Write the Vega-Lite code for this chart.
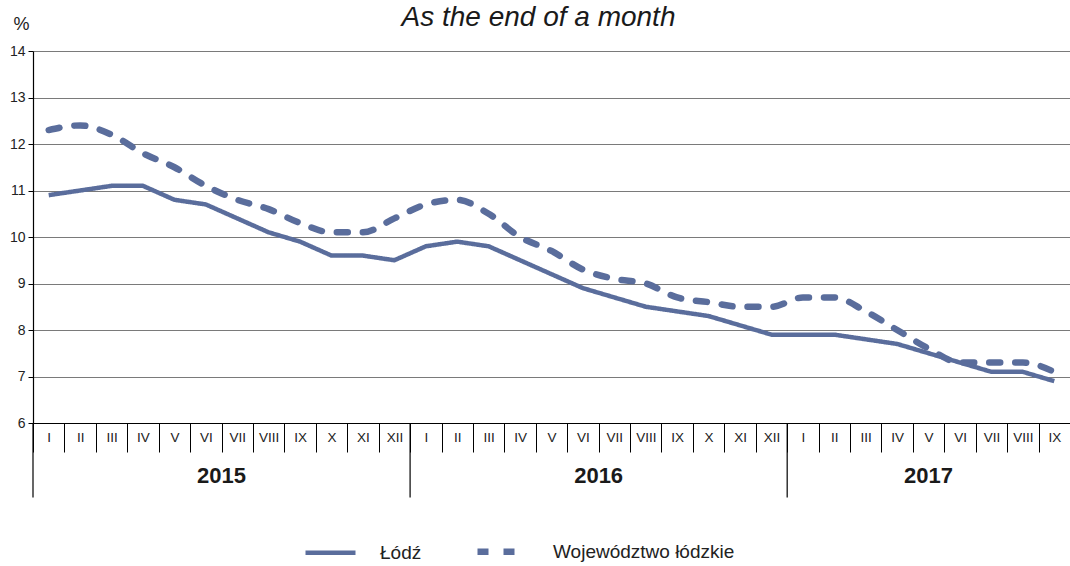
{
  "$schema": "https://vega.github.io/schema/vega-lite/v6.json",
  "autosize": {"type": "none"},
  "padding": {"left": 33, "top": 51, "right": 0, "bottom": 143},
  "width": 1037,
  "height": 372,
  "title": {"text": "As the end of a month", "font": "Liberation Sans", "fontStyle": "italic", "fontWeight": "normal", "fontSize": 28, "color": "#1a1a1a", "anchor": "middle", "baseline": "alphabetic", "offset": -39, "dx": -13},
  "config": {
    "view": {"stroke": null},
    "font": "Liberation Sans",
    "text": {"font": "Liberation Sans"}
  },
  "datasets": {
    "series": [
      {"k": "2015-I", "s": "Łódź", "v": 10.9},
      {"k": "2015-II", "s": "Łódź", "v": 11.0},
      {"k": "2015-III", "s": "Łódź", "v": 11.1},
      {"k": "2015-IV", "s": "Łódź", "v": 11.1},
      {"k": "2015-V", "s": "Łódź", "v": 10.8},
      {"k": "2015-VI", "s": "Łódź", "v": 10.7},
      {"k": "2015-VII", "s": "Łódź", "v": 10.4},
      {"k": "2015-VIII", "s": "Łódź", "v": 10.1},
      {"k": "2015-IX", "s": "Łódź", "v": 9.9},
      {"k": "2015-X", "s": "Łódź", "v": 9.6},
      {"k": "2015-XI", "s": "Łódź", "v": 9.6},
      {"k": "2015-XII", "s": "Łódź", "v": 9.5},
      {"k": "2016-I", "s": "Łódź", "v": 9.8},
      {"k": "2016-II", "s": "Łódź", "v": 9.9},
      {"k": "2016-III", "s": "Łódź", "v": 9.8},
      {"k": "2016-IV", "s": "Łódź", "v": 9.5},
      {"k": "2016-V", "s": "Łódź", "v": 9.2},
      {"k": "2016-VI", "s": "Łódź", "v": 8.9},
      {"k": "2016-VII", "s": "Łódź", "v": 8.7},
      {"k": "2016-VIII", "s": "Łódź", "v": 8.5},
      {"k": "2016-IX", "s": "Łódź", "v": 8.4},
      {"k": "2016-X", "s": "Łódź", "v": 8.3},
      {"k": "2016-XI", "s": "Łódź", "v": 8.1},
      {"k": "2016-XII", "s": "Łódź", "v": 7.9},
      {"k": "2017-I", "s": "Łódź", "v": 7.9},
      {"k": "2017-II", "s": "Łódź", "v": 7.9},
      {"k": "2017-III", "s": "Łódź", "v": 7.8},
      {"k": "2017-IV", "s": "Łódź", "v": 7.7},
      {"k": "2017-V", "s": "Łódź", "v": 7.5},
      {"k": "2017-VI", "s": "Łódź", "v": 7.3},
      {"k": "2017-VII", "s": "Łódź", "v": 7.1},
      {"k": "2017-VIII", "s": "Łódź", "v": 7.1},
      {"k": "2017-IX", "s": "Łódź", "v": 6.9},
      {"k": "2015-I", "s": "Województwo łódzkie", "v": 12.3},
      {"k": "2015-II", "s": "Województwo łódzkie", "v": 12.4},
      {"k": "2015-III", "s": "Województwo łódzkie", "v": 12.2},
      {"k": "2015-IV", "s": "Województwo łódzkie", "v": 11.8},
      {"k": "2015-V", "s": "Województwo łódzkie", "v": 11.5},
      {"k": "2015-VI", "s": "Województwo łódzkie", "v": 11.1},
      {"k": "2015-VII", "s": "Województwo łódzkie", "v": 10.8},
      {"k": "2015-VIII", "s": "Województwo łódzkie", "v": 10.6},
      {"k": "2015-IX", "s": "Województwo łódzkie", "v": 10.3},
      {"k": "2015-X", "s": "Województwo łódzkie", "v": 10.1},
      {"k": "2015-XI", "s": "Województwo łódzkie", "v": 10.1},
      {"k": "2015-XII", "s": "Województwo łódzkie", "v": 10.4},
      {"k": "2016-I", "s": "Województwo łódzkie", "v": 10.7},
      {"k": "2016-II", "s": "Województwo łódzkie", "v": 10.8},
      {"k": "2016-III", "s": "Województwo łódzkie", "v": 10.5},
      {"k": "2016-IV", "s": "Województwo łódzkie", "v": 10.0},
      {"k": "2016-V", "s": "Województwo łódzkie", "v": 9.7},
      {"k": "2016-VI", "s": "Województwo łódzkie", "v": 9.3},
      {"k": "2016-VII", "s": "Województwo łódzkie", "v": 9.1},
      {"k": "2016-VIII", "s": "Województwo łódzkie", "v": 9.0},
      {"k": "2016-IX", "s": "Województwo łódzkie", "v": 8.7},
      {"k": "2016-X", "s": "Województwo łódzkie", "v": 8.6},
      {"k": "2016-XI", "s": "Województwo łódzkie", "v": 8.5},
      {"k": "2016-XII", "s": "Województwo łódzkie", "v": 8.5},
      {"k": "2017-I", "s": "Województwo łódzkie", "v": 8.7},
      {"k": "2017-II", "s": "Województwo łódzkie", "v": 8.7},
      {"k": "2017-III", "s": "Województwo łódzkie", "v": 8.4},
      {"k": "2017-IV", "s": "Województwo łódzkie", "v": 8.0},
      {"k": "2017-V", "s": "Województwo łódzkie", "v": 7.6},
      {"k": "2017-VI", "s": "Województwo łódzkie", "v": 7.3},
      {"k": "2017-VII", "s": "Województwo łódzkie", "v": 7.3},
      {"k": "2017-VIII", "s": "Województwo łódzkie", "v": 7.3},
      {"k": "2017-IX", "s": "Województwo łódzkie", "v": 7.1}
    ],
    "years2": [
      {"year": "2015", "k": "2015-VII"},
      {"year": "2016", "k": "2016-VII"}
    ],
    "years1": [
      {"year": "2017", "k": "2017-V"}
    ],
    "seps": [
      {"k": "2015-I"},
      {"k": "2016-I"},
      {"k": "2017-I"}
    ]
  },
  "resolve": {"scale": {"x": "shared", "y": "shared"}},
  "layer": [
    {
      "data": {"name": "series"},
      "transform": [{"filter": "datum.s === 'Łódź'"}],
      "mark": {"type": "line", "color": "#5a6d9c", "strokeCap": "butt", "strokeJoin": "round"},
      "encoding": {
        "x": {
          "field": "k", "type": "nominal",
          "scale": {"type": "band", "paddingInner": 0, "paddingOuter": 0, "domain": ["2015-I","2015-II","2015-III","2015-IV","2015-V","2015-VI","2015-VII","2015-VIII","2015-IX","2015-X","2015-XI","2015-XII","2016-I","2016-II","2016-III","2016-IV","2016-V","2016-VI","2016-VII","2016-VIII","2016-IX","2016-X","2016-XI","2016-XII","2017-I","2017-II","2017-III","2017-IV","2017-V","2017-VI","2017-VII","2017-VIII","2017-IX"]},
          "axis": {
            "title": null,
            "labelExpr": "split(datum.value, '-')[1]",
            "labelAngle": 0,
            "labelFont": "Liberation Sans",
            "labelFontSize": 13.5,
            "labelColor": "#222222",
            "labelPadding": -22,
            "labelBaseline": "top",
            "tickBand": "extent",
            "tickSize": 29,
            "tickColor": "#000000",
            "tickWidth": 1,
            "domainColor": "#000000",
            "domainWidth": 1.2,
            "grid": false,
            "labelOverlap": false
          }
        },
        "y": {
          "field": "v", "type": "quantitative",
          "scale": {"domain": [6, 14], "zero": false, "nice": false},
          "axis": {
            "title": "%",
            "titleAngle": 0,
            "titleAlign": "center",
            "titleBaseline": "alphabetic",
            "titleX": -12,
            "titleY": -22,
            "titleFont": "Liberation Sans",
            "titleFontSize": 18,
            "titleFontWeight": "normal",
            "titleColor": "#222222",
            "values": [6, 7, 8, 9, 10, 11, 12, 13, 14],
            "labelFont": "Liberation Sans",
            "labelFontSize": 14,
            "labelColor": "#222222",
            "labelPadding": 3,
            "tickSize": 5,
            "tickColor": "#000000",
            "domainColor": "#000000",
            "domainWidth": 1.2,
            "grid": true,
            "gridColor": "#7a7a7a",
            "gridWidth": 1
          }
        },
        "strokeDash": {"field": "s", "type": "nominal", "scale": {"domain": ["Łódź", "Województwo łódzkie"], "range": [[1, 0], [11, 15]]}, "title": null},
        "strokeWidth": {"field": "s", "type": "nominal", "scale": {"domain": ["Łódź", "Województwo łódzkie"], "range": [4.5, 6.5]}, "title": null}
      }
    },
    {
      "data": {"name": "series"},
      "transform": [{"filter": "datum.s !== 'Łódź'"}],
      "mark": {"type": "line", "color": "#5a6d9c", "strokeCap": "round", "interpolate": "monotone"},
      "encoding": {
        "x": {"field": "k", "type": "nominal"},
        "y": {"field": "v", "type": "quantitative"},
        "strokeDash": {"field": "s", "type": "nominal", "title": null,
          "legend": {
            "orient": "none",
            "legendX": 270,
            "legendY": 472,
            "direction": "horizontal",
            "symbolType": "stroke",
            "symbolSize": 2500,
            "symbolStrokeColor": "#5a6d9c",
            "labelFont": "Liberation Sans",
            "labelFontSize": 19,
            "labelColor": "#222222",
            "labelOffset": 22,
            "labelLimit": 400,
            "columnPadding": 42
          }
        },
        "strokeWidth": {"field": "s", "type": "nominal", "title": null}
      }
    },
    {
      "data": {"name": "seps"},
      "mark": {"type": "rule", "color": "#000000", "strokeWidth": 1.2},
      "encoding": {
        "x": {"field": "k", "type": "nominal", "bandPosition": 0},
        "y": {"datum": 6},
        "y2": {"datum": 4.4}
      }
    },
    {
      "data": {"name": "years2"},
      "mark": {"type": "text", "font": "Liberation Sans", "fontSize": 22, "fontWeight": "bold", "color": "#1a1a1a", "baseline": "middle", "align": "center"},
      "encoding": {
        "x": {"field": "k", "type": "nominal", "bandPosition": 0},
        "y": {"datum": 4.86},
        "text": {"field": "year"}
      }
    },
    {
      "data": {"name": "years1"},
      "mark": {"type": "text", "font": "Liberation Sans", "fontSize": 22, "fontWeight": "bold", "color": "#1a1a1a", "baseline": "middle", "align": "center"},
      "encoding": {
        "x": {"field": "k", "type": "nominal", "bandPosition": 0.5},
        "y": {"datum": 4.86},
        "text": {"field": "year"}
      }
    }
  ]
}
